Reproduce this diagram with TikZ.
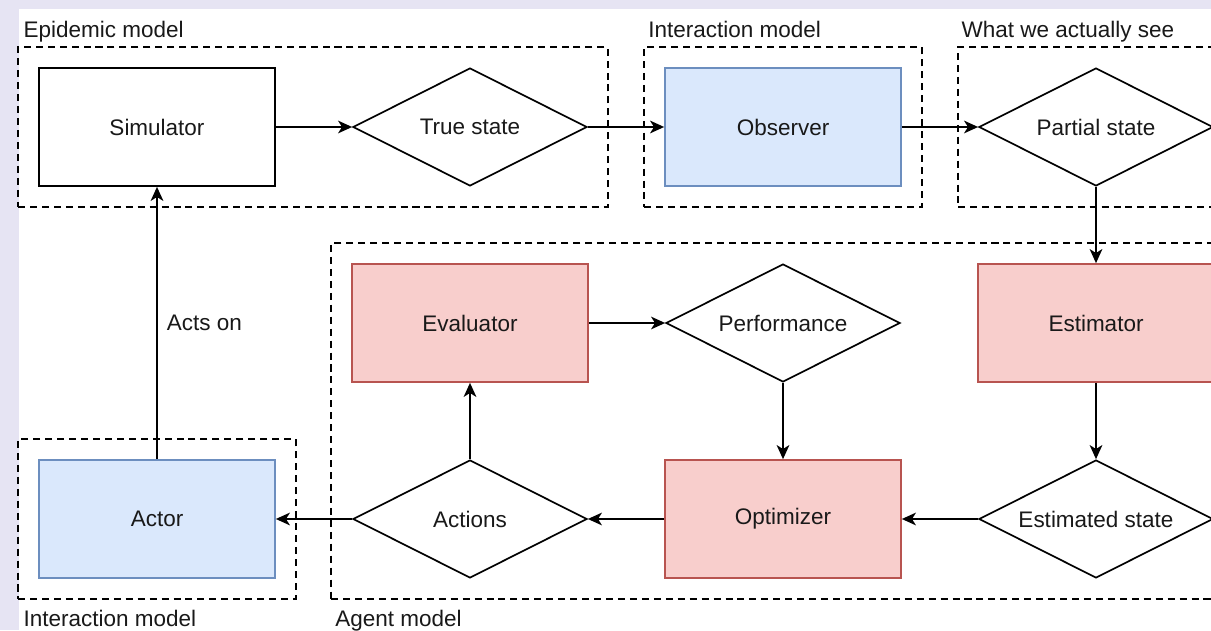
\documentclass[tikz,border=0pt]{standalone}
\usepackage{fontspec}
\setmainfont{Liberation Sans}
\usetikzlibrary{fit,arrows.meta,calc,positioning,shapes.geometric}
\definecolor{lavender}{HTML}{E6E4F3}
\definecolor{lightblue}{HTML}{DAE8FC}
\definecolor{blueline}{HTML}{6C8EBF}
\definecolor{lightred}{HTML}{F8CECC}
\definecolor{redline}{HTML}{B85450}

\tikzset{
	block/.style={draw, line width=1.2pt, minimum height=2.95cm, minimum width=5.9cm, inner sep=0pt},
	decision/.style={draw, line width=1.2pt, diamond, aspect=2, minimum height=2.95cm, minimum width=5.85cm, inner sep=0pt},
	group/.style={draw, line width=1.2pt, dash pattern=on 5pt off 3.5pt, inner sep=0.5cm},
	flow/.style={line width=1.4pt, -{Stealth[length=10pt,width=9pt,inset=2.8pt]}},
}

\begin{document}
\begin{tikzpicture}
	\useasboundingbox (0,0) rectangle (30.275,15.75);
	\fill[lavender] (0,0) rectangle (30.275,15.75);
	\fill[white] (0.475,0) rectangle (30.275,15.525);
	\clip (0,0) rectangle (30.275,15.75);
	\begin{scope}[font=\fontsize{16}{19}\selectfont, text=black!90]
		% top row
		\draw (3.925,12.575) node[block](simulator) {Simulator};
		\draw (11.75,12.575) node[decision](truestate) {True state};
		\draw (19.575,12.575) node[block, fill=lightblue, draw=blueline](observer) {Observer};
		\draw (27.4,12.575) node[decision](partial) {Partial state};
		
		% middle row
		\draw (11.75,7.675) node[block, fill=lightred, draw=redline](evaluator) {Evaluator};
		\draw (19.575,7.675) node[decision](performance) {Performance};
		\draw (27.4,7.675) node[block, fill=lightred, draw=redline](estimator) {Estimator};
		
		% bottom row
		\draw (3.925,2.775) node[block, fill=lightblue, draw=blueline](actor) {Actor};
		\draw (11.75,2.775) node[decision](actions) {Actions};
		\draw (19.575,2.775) node[block, fill=lightred, draw=redline](optimizer) {Optimizer};
		\draw (27.4,2.775) node[decision](estimated) {Estimated state};
		
		% dashed groups
		\node[group, fit=(simulator)(truestate)](epidemic) {};
		\node[group, fit=(observer)](interact) {};
		\node[group, fit=(partial)](seen) {};
		\node[group, fit=(evaluator)(estimated)](agent) {};
		\node[group, fit=(actor)](interactb) {};
		
		\draw ($(epidemic.north west)+(0.15,0.22)$) node[anchor=base west, inner sep=0pt](epidemiclabel) {Epidemic model};
		\draw ($(interact.north west)+(0.12,0.22)$) node[anchor=base west, inner sep=0pt](interactlabel) {Interaction model};
		\draw ($(seen.north west)+(0.1,0.22)$) node[anchor=base west, inner sep=0pt](seenlabel) {What we actually see};
		\draw ($(interactb.south west)+(0.15,-0.675)$) node[anchor=base west, inner sep=0pt](interactblabel) {Interaction model};
		\draw ($(agent.south west)+(0.12,-0.675)$) node[anchor=base west, inner sep=0pt](agentlabel) {Agent model};
		
		% connectors
		\draw [flow] (simulator) -- (truestate);
		\draw [flow] (truestate) -- (observer);
		\draw [flow] (observer) -- (partial);
		\draw [flow] (partial) -- (estimator);
		\draw [flow] (estimator) -- (estimated);
		\draw [flow] (estimated) -- (optimizer);
		\draw [flow] (optimizer) -- (actions);
		\draw [flow] (actions) -- (actor);
		\draw [flow] (actions) -- (evaluator);
		\draw [flow] (evaluator) -- (performance);
		\draw [flow] (performance) -- (optimizer);
		\draw [flow] (actor) -- (simulator) node[midway, right, inner sep=0.22cm] 
					{Acts on};
	\end{scope}
\end{tikzpicture}
\end{document}
